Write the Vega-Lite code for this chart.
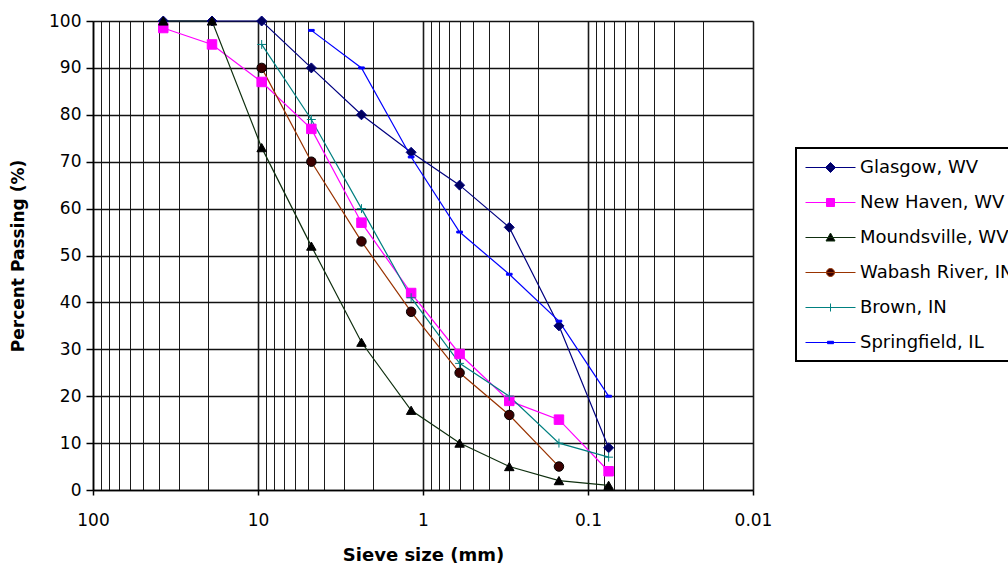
{
  "$schema": "https://vega.github.io/schema/vega-lite/v6.json",
  "width": 660,
  "height": 469,
  "autosize": {"type": "none"},
  "padding": {"left": 93, "top": 21, "right": 255, "bottom": 80},
  "background": "white",
  "config": {"view": {"stroke": null}, "font": "DejaVu Sans"},
  "data": {
    "values": [
      {"site": "Glasgow, WV", "size": 37.5, "pct": 100},
      {"site": "Glasgow, WV", "size": 19, "pct": 100},
      {"site": "Glasgow, WV", "size": 9.5, "pct": 100},
      {"site": "Glasgow, WV", "size": 4.75, "pct": 90},
      {"site": "Glasgow, WV", "size": 2.36, "pct": 80},
      {"site": "Glasgow, WV", "size": 1.18, "pct": 72},
      {"site": "Glasgow, WV", "size": 0.6, "pct": 65},
      {"site": "Glasgow, WV", "size": 0.3, "pct": 56},
      {"site": "Glasgow, WV", "size": 0.15, "pct": 35},
      {"site": "Glasgow, WV", "size": 0.075, "pct": 9},
      {"site": "New Haven, WV", "size": 37.5, "pct": 98.5},
      {"site": "New Haven, WV", "size": 19, "pct": 95},
      {"site": "New Haven, WV", "size": 9.5, "pct": 87},
      {"site": "New Haven, WV", "size": 4.75, "pct": 77},
      {"site": "New Haven, WV", "size": 2.36, "pct": 57},
      {"site": "New Haven, WV", "size": 1.18, "pct": 42},
      {"site": "New Haven, WV", "size": 0.6, "pct": 29},
      {"site": "New Haven, WV", "size": 0.3, "pct": 19},
      {"site": "New Haven, WV", "size": 0.15, "pct": 15},
      {"site": "New Haven, WV", "size": 0.075, "pct": 4},
      {"site": "Moundsville, WV", "size": 37.5, "pct": 100},
      {"site": "Moundsville, WV", "size": 19, "pct": 100},
      {"site": "Moundsville, WV", "size": 9.5, "pct": 73},
      {"site": "Moundsville, WV", "size": 4.75, "pct": 52},
      {"site": "Moundsville, WV", "size": 2.36, "pct": 31.5},
      {"site": "Moundsville, WV", "size": 1.18, "pct": 17},
      {"site": "Moundsville, WV", "size": 0.6, "pct": 10},
      {"site": "Moundsville, WV", "size": 0.3, "pct": 5},
      {"site": "Moundsville, WV", "size": 0.15, "pct": 2},
      {"site": "Moundsville, WV", "size": 0.075, "pct": 1},
      {"site": "Wabash River, IN", "size": 9.5, "pct": 90},
      {"site": "Wabash River, IN", "size": 4.75, "pct": 70},
      {"site": "Wabash River, IN", "size": 2.36, "pct": 53},
      {"site": "Wabash River, IN", "size": 1.18, "pct": 38},
      {"site": "Wabash River, IN", "size": 0.6, "pct": 25},
      {"site": "Wabash River, IN", "size": 0.3, "pct": 16},
      {"site": "Wabash River, IN", "size": 0.15, "pct": 5},
      {"site": "Brown, IN", "size": 9.5, "pct": 95},
      {"site": "Brown, IN", "size": 4.75, "pct": 79},
      {"site": "Brown, IN", "size": 2.36, "pct": 60},
      {"site": "Brown, IN", "size": 1.18, "pct": 41},
      {"site": "Brown, IN", "size": 0.6, "pct": 27},
      {"site": "Brown, IN", "size": 0.3, "pct": 20},
      {"site": "Brown, IN", "size": 0.15, "pct": 10},
      {"site": "Brown, IN", "size": 0.075, "pct": 7},
      {"site": "Springfield, IL", "size": 4.75, "pct": 98},
      {"site": "Springfield, IL", "size": 2.36, "pct": 90},
      {"site": "Springfield, IL", "size": 1.18, "pct": 71},
      {"site": "Springfield, IL", "size": 0.6, "pct": 55},
      {"site": "Springfield, IL", "size": 0.3, "pct": 46},
      {"site": "Springfield, IL", "size": 0.15, "pct": 36},
      {"site": "Springfield, IL", "size": 0.075, "pct": 20}
    ]
  },
  "encoding": {
    "x": {
      "field": "size",
      "type": "quantitative",
      "title": "Sieve size (mm)",
      "scale": {"type": "log", "domain": [0.01, 100], "reverse": true, "nice": false},
      "axis": {
        "values": [100, 90, 80, 70, 60, 50, 40, 30, 20, 10, 9, 8, 7, 6, 5, 4, 3, 2, 1, 0.9, 0.8, 0.7, 0.6, 0.5, 0.4, 0.3, 0.2, 0.1, 0.09, 0.08, 0.07, 0.06, 0.05, 0.04, 0.03, 0.02, 0.01],
        "grid": true,
        "gridColor": "#1a1a1a",
        "gridWidth": {"condition": {"test": "abs(log(datum.value)/LN10 - round(log(datum.value)/LN10)) < 0.001", "value": 1.6}, "value": 1},
        "gridOpacity": 1,
        "domainColor": "black",
        "domainWidth": 1.5,
        "tickColor": "black",
        "tickSize": 5,
        "tickWidth": 1.5,
        "tickOpacity": {"condition": {"test": "abs(log(datum.value)/LN10 - round(log(datum.value)/LN10)) < 0.001", "value": 1}, "value": 0},
        "labelExpr": "abs(log(datum.value)/LN10 - round(log(datum.value)/LN10)) < 0.001 ? toString(datum.value) : ''",
        "labelOverlap": false,
        "labelFlush": false,
        "labelBound": false,
        "labelFont": "DejaVu Sans",
        "labelFontSize": 17,
        "labelColor": "black",
        "labelPadding": 17,
        "titleFont": "DejaVu Sans",
        "titleFontSize": 18,
        "titleFontWeight": "bold",
        "titleColor": "black",
        "titleY": 65,
        "titleBaseline": "middle"
      }
    },
    "y": {
      "field": "pct",
      "type": "quantitative",
      "title": "Percent Passing (%)",
      "scale": {"domain": [0, 100], "nice": false},
      "axis": {
        "values": [0, 10, 20, 30, 40, 50, 60, 70, 80, 90, 100],
        "grid": true,
        "gridColor": "#111111",
        "gridWidth": 1.6,
        "gridOpacity": 1,
        "domainColor": "black",
        "domainWidth": 1.5,
        "tickColor": "black",
        "tickSize": 7,
        "tickWidth": 1.5,
        "labelFont": "DejaVu Sans",
        "labelFontSize": 17,
        "labelColor": "black",
        "labelPadding": 5,
        "titleFont": "DejaVu Sans",
        "titleFontSize": 17,
        "titleFontWeight": "bold",
        "titleColor": "black",
        "titleX": -75,
        "titleY": 234.5,
        "titleBaseline": "middle",
        "titleAlign": "center"
      }
    }
  },
  "layer": [
    {
      "mark": {"type": "line", "strokeWidth": 1.2},
      "encoding": {
        "color": {
          "field": "site",
          "type": "nominal",
          "scale": {
            "domain": ["Glasgow, WV", "New Haven, WV", "Moundsville, WV", "Wabash River, IN", "Brown, IN", "Springfield, IL"],
            "range": ["#000080", "#FF00FF", "#0f2f0f", "#993300", "#008080", "#0000FF"]
          },
          "legend": {
            "title": null,
            "orient": "none",
            "legendX": 703,
            "legendY": 127,
            "padding": 9,
            "strokeColor": "black",
            "fillColor": "white",
            "symbolSize": 400,
            "symbolStrokeWidth": 1,
            "labelFont": "DejaVu Sans",
            "labelFontSize": 18,
            "labelColor": "black",
            "labelOffset": 34,
            "labelLimit": 400,
            "rowPadding": 15,
            "encode": {
              "legend": {"update": {"strokeWidth": {"value": 2}}},
              "symbols": {
                "update": {
                  "shape": {"signal": "['M-1,0H4M1.5,-0.5L2,0L1.5,0.5L1,0Z','M-1,0H4M1.1,-0.4H1.9V0.4H1.1Z','M-1,0H4M1.5,-0.45L1.95,0.35H1.05Z','M-1,0H4M1.1,0A0.4,0.4 0 1,0 1.9,0A0.4,0.4 0 1,0 1.1,0Z','M-1,0H4M1.5,-0.4V0.4','M-1,0H4M1.2,-0.12H1.8V0.12H1.2Z'][indexof(['Glasgow, WV','New Haven, WV','Moundsville, WV','Wabash River, IN','Brown, IN','Springfield, IL'], datum.value)]"},
                  "fill": {"signal": "['#000060','#FF00FF','#000000','#3a0000','#008080','#0000FF'][indexof(['Glasgow, WV','New Haven, WV','Moundsville, WV','Wabash River, IN','Brown, IN','Springfield, IL'], datum.value)]"},
                  "strokeWidth": {"value": 1},
                  "opacity": {"value": 1}
                }
              }
            }
          }
        }
      }
    },
    {
      "transform": [{"filter": "datum.site === 'Glasgow, WV'"}],
      "mark": {"type": "point", "shape": "diamond", "filled": true, "size": 100, "fill": "#000060", "stroke": "#000080", "strokeWidth": 1, "opacity": 1}
    },
    {
      "transform": [{"filter": "datum.site === 'New Haven, WV'"}],
      "mark": {"type": "point", "shape": "square", "filled": true, "size": 90, "fill": "#FF00FF", "stroke": "#FF00FF", "strokeWidth": 1, "opacity": 1}
    },
    {
      "transform": [{"filter": "datum.site === 'Moundsville, WV'"}],
      "mark": {"type": "point", "shape": "triangle-up", "filled": true, "size": 90, "fill": "#000000", "stroke": "#000000", "strokeWidth": 1, "opacity": 1}
    },
    {
      "transform": [{"filter": "datum.site === 'Wabash River, IN'"}],
      "mark": {"type": "point", "shape": "circle", "filled": true, "size": 90, "fill": "#3a0000", "stroke": "#000000", "strokeWidth": 1, "opacity": 1}
    },
    {
      "transform": [{"filter": "datum.site === 'Brown, IN'"}],
      "mark": {"type": "point", "shape": "M-1,0H1M0,-1V1", "filled": false, "size": 80, "stroke": "#008080", "strokeWidth": 1, "opacity": 1}
    },
    {
      "transform": [{"filter": "datum.site === 'Springfield, IL'"}],
      "mark": {"type": "point", "shape": "M-0.6,-0.2H0.6V0.2H-0.6Z", "filled": true, "size": 90, "fill": "#0000FF", "stroke": "#0000FF", "strokeWidth": 1, "opacity": 1}
    }
  ]
}
